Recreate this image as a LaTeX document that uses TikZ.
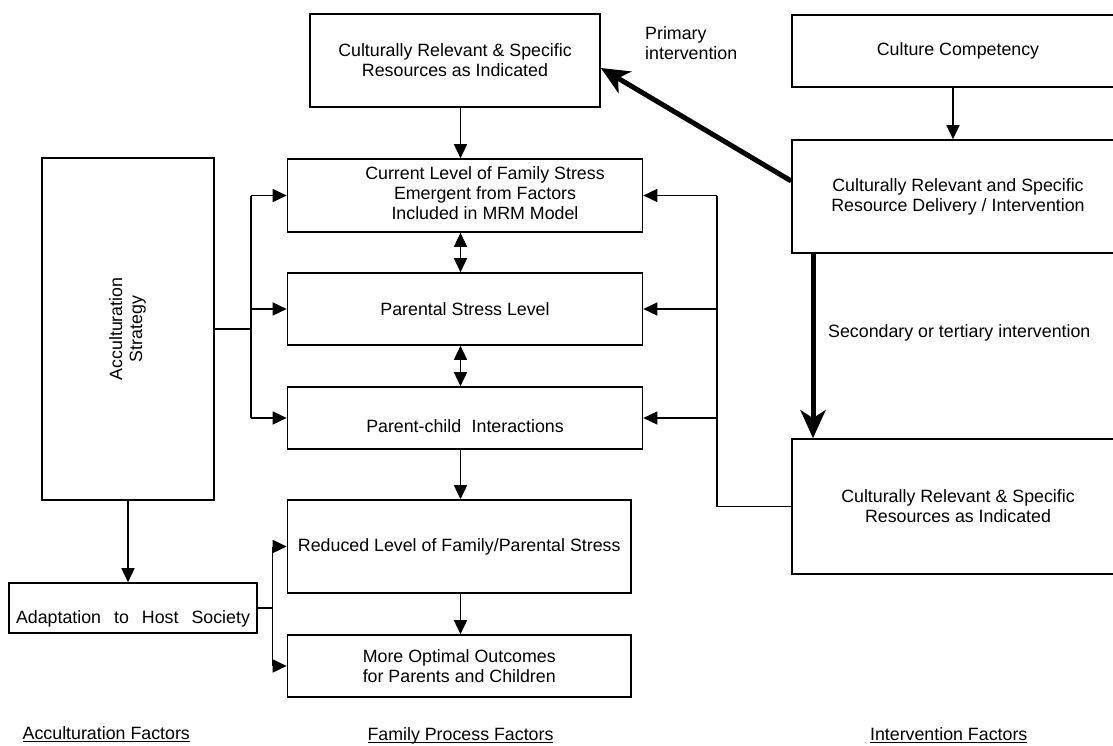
\documentclass[tikz,border=0pt]{standalone}
\usepackage{fontspec}
\usepackage{graphicx}
\setmainfont{Liberation Sans}
\usetikzlibrary{arrows.meta}
\newcommand{\myul}[1]{\begingroup\setbox0=\hbox{#1}\rlap{\rule[-3pt]{\wd0}{1.4pt}}\box0\endgroup}
\begin{document}
\begin{tikzpicture}[x=1pt,y=-1pt,
  every node/.style={font=\fontsize{17.8}{20}\selectfont},
  box/.style={draw, line width=1.6pt, inner sep=0pt, align=center},
  ln/.style={line width=1.5pt},
  arr/.style={line width=1.5pt, -{Triangle[length=14pt,width=13pt]}},
  darr/.style={line width=1.5pt, {Triangle[length=14pt,width=13pt]}-{Triangle[length=14pt,width=13pt]}},
  big/.style={line width=5pt, -{Stealth[length=28pt,width=25pt,inset=8pt]}},
  lbl/.style={inner sep=0pt}
]
\useasboundingbox (0,0) rectangle (1113,745);
\clip (0,0) rectangle (1113,745);

% family process column
\node[box, minimum width=290pt, minimum height=93pt] (top) at (455,60.5) {Culturally Relevant \& Specific\\Resources as Indicated};
\node[box, minimum width=355pt, minimum height=73pt] (cur) at (465,195.5) {\hspace*{40pt}\begin{tabular}{@{}c@{}}Current Level of Family Stress\\Emergent from Factors\\Included in MRM Model\end{tabular}};
\node[box, minimum width=355pt, minimum height=72pt] (par) at (465,309) {Parental Stress Level};
\node[box, minimum width=355pt, minimum height=62pt] (pci) at (465,418) {\rule{0pt}{30pt}Parent-child\hspace{10.5pt}Interactions};
\node[box, minimum width=343.5pt, minimum height=93pt] (red) at (459.25,546.5) {Reduced Level of Family/Parental Stress};
\node[box, minimum width=343.5pt, minimum height=62pt] (opt) at (459.25,666) {More Optimal Outcomes\\for Parents and Children};

% acculturation column
\node[box, minimum width=172pt, minimum height=342pt] (acc) at (128,329) {\rotatebox{90}{\begin{tabular}{@{}c@{}}Acculturation\\Strategy\end{tabular}}};
\node[box, minimum width=248pt, minimum height=50pt] (adp) at (133,608) {\rule{0pt}{34pt}Adaptation\hspace*{13pt}to\hspace*{13pt}Host\hspace*{13pt}Society};

% intervention column
\node[box, minimum width=332pt, minimum height=72pt] (cc) at (958,51) {Culture Competency};
\node[box, minimum width=332pt, minimum height=113pt] (del) at (958,196.5) {Culturally Relevant and Specific\\Resource Delivery / Intervention};
\node[box, minimum width=332pt, minimum height=135pt] (bot) at (958,506.5) {Culturally Relevant \& Specific\\Resources as Indicated};

% labels
\node[lbl, anchor=west, align=left] (prim) at (645,43) {Primary\\intervention};
\node[lbl, anchor=west] (sec) at (828,333) {Secondary or tertiary intervention};
\node[lbl, anchor=base] (fa) at (106.3,739) {\myul{Acculturation Factors}};
\node[lbl, anchor=base] (ff) at (460.5,740) {\myul{Family Process Factors}};
\node[lbl, anchor=base] (fi) at (948.7,740) {\myul{Intervention Factors}};

% central arrows
\coordinate (mx) at (460.5,0);
\draw[arr] (mx |- top.south) -- (mx |- cur.north);
\draw[darr] (mx |- cur.south) -- (mx |- par.north);
\draw[darr] (mx |- par.south) -- (mx |- pci.north);
\draw[arr] (mx |- pci.south) -- (mx |- red.north);
\draw[arr] (mx |- red.south) -- (mx |- opt.north);

% acculturation strategy fan-out
\coordinate (lj) at (251,0);
\draw[ln] (acc.east) -- (lj |- acc.east);
\draw[ln] (lj |- cur.west) -- (lj |- pci.west);
\draw[arr] (lj |- cur.west) -- (cur.west);
\draw[arr] (lj |- par.west) -- (par.west);
\draw[arr] (lj |- pci.west) -- (pci.west);

\draw[arr] (acc.south) -- (acc.south |- adp.north);

% adaptation fan-out
\coordinate (aj) at (272.5,0);
\draw[ln] (adp.east) -- (aj |- adp.east);
\draw[ln] (aj |- red.west) -- (aj |- opt.west);
\draw[arr] (aj |- red.west) -- (red.west);
\draw[arr] (aj |- opt.west) -- (opt.west);

% resources fan-in
\coordinate (rj) at (717,0);
\draw[ln] (bot.west) -- (rj |- bot.west) -- (rj |- cur.east);
\draw[arr] (rj |- cur.east) -- (cur.east);
\draw[arr] (rj |- par.east) -- (par.east);
\draw[arr] (rj |- pci.east) -- (pci.east);

% intervention arrows
\coordinate (ccx) at (953,0);
\draw[arr] (ccx |- cc.south) -- (ccx |- del.north);
\draw[big] ([yshift=15.5pt]del.west) -- ([yshift=-7.5pt]top.east);
\coordinate (tx) at (813,0);
\draw[big] (tx |- del.south) -- (tx |- bot.north);
\end{tikzpicture}
\end{document}
